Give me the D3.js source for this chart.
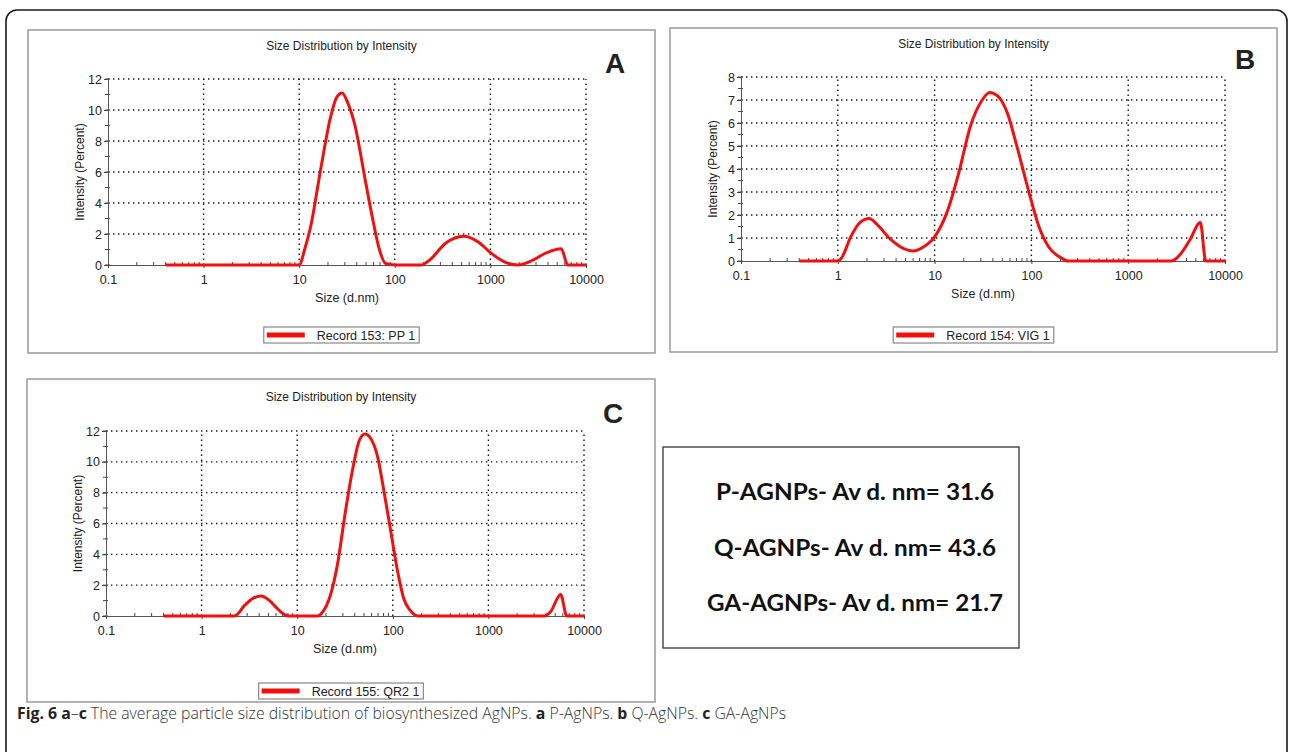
<!DOCTYPE html>
<html>
<head>
<meta charset="utf-8">
<script src="https://cdn.jsdelivr.net/npm/d3@7.9.0/dist/d3.min.js"></script>
<style>
  html, body { margin: 0; padding: 0; background: #fff; }
  svg { display: block; }
  .chart text { font-family: "Liberation Sans", Arial, sans-serif; fill: #222; }
</style>
</head>
<body>
<svg id="fig" width="1292" height="752"></svg>
<script>
// --- data ---
const xTickValues = [0.1, 1, 10, 100, 1000, 10000];
const xTickLabels = ['0.1', '1', '10', '100', '1000', '10000'];

// A: Record 153: PP 1
const sizesA = [0.4, 10, 11.4, 13.2, 16.8, 21.4, 24.6, 28.1, 32.5, 38.3, 49, 59, 69, 80, 100, 190, 234, 340, 526, 740, 1000, 1400, 1950, 2640, 3890, 5500, 6450, 10000];
const intensityA = [0, 0, 1.0, 2.5, 6.2, 9.6, 10.8, 11.1, 10.4, 9.0, 5.5, 2.9, 1.0, 0.1, 0, 0, 0.35, 1.4, 1.85, 1.5, 0.8, 0.2, 0, 0.25, 0.8, 1.05, 0, 0];

// B: Record 154: VIG 1
const sizesB = [0.4, 1.0, 1.1, 1.36, 1.72, 2.1, 2.6, 3.45, 4.8, 6.0, 7.6, 10, 13.3, 17.7, 23.4, 31, 37, 44.7, 56.5, 71, 95, 120, 151, 200, 240, 2800, 3250, 4320, 5560, 6330, 10000];
const intensityB = [0, 0, 0.15, 1.05, 1.7, 1.85, 1.55, 0.97, 0.54, 0.44, 0.6, 1.05, 2.07, 3.8, 5.85, 7.0, 7.33, 7.18, 6.43, 4.97, 2.94, 1.48, 0.61, 0.15, 0, 0, 0.17, 0.9, 1.67, 0, 0];

// C: Record 155: QR2 1
const sizesC = [0.4, 2.22, 2.83, 3.44, 4.17, 5.07, 6.16, 7.47, 8.2, 16.2, 18.6, 21.7, 26.3, 31.9, 38.7, 44.7, 51.1, 59, 69.5, 80, 95.5, 112.5, 130, 151, 182, 3870, 4470, 5700, 6600, 10000];
const intensityC = [0, 0, 0.7, 1.14, 1.3, 1.03, 0.5, 0.07, 0, 0, 0.28, 1.14, 3.3, 6.75, 9.76, 11.4, 11.8, 11.5, 10.3, 8.25, 5.45, 2.87, 1.14, 0.39, 0, 0, 0.28, 1.4, 0, 0];

const yMajorA = [0, 2, 4, 6, 8, 10, 12];
const yMajorB = [0, 1, 2, 3, 4, 5, 6, 7, 8];
const yMajorC = [0, 2, 4, 6, 8, 10, 12];

const panelTitle = 'Size Distribution by Intensity';
const xAxisTitle = 'Size (d.nm)';
const yAxisTitle = 'Intensity (Percent)';

const summaryLines = ['P-AGNPs- Av d. nm= 31.6', 'Q-AGNPs- Av d. nm= 43.6', 'GA-AGNPs- Av d. nm= 21.7'];

const svg = d3.select('#fig');

// outer rounded frame
svg.append('rect')
  .attr('x', 6).attr('y', 10)
  .attr('width', 1281).attr('height', 800)
  .attr('rx', 11)
  .attr('fill', 'none')
  .attr('stroke', '#1a1a1a')
  .attr('stroke-width', 1.6);

const panels = [
  { sizes: sizesA, values: intensityA, yMax: 12, yMajor: yMajorA, yMinorStep: 1,
    legend: 'Record 153: PP 1', letter: 'A', letterFont: '"Liberation Sans", Arial',
    box: [28, 30, 655, 353], plotX: [108, 586], plotY: [265, 79],
    titleY: 50, letterX: 615, letterY: 73, legendY: 327 },
  { sizes: sizesB, values: intensityB, yMax: 8, yMajor: yMajorB, yMinorStep: 0.5,
    legend: 'Record 154: VIG 1', letter: 'B', letterFont: '"Liberation Sans", Arial',
    box: [670, 28, 1277, 352], plotX: [741, 1225], plotY: [261, 77],
    titleY: 48, letterX: 1245, letterY: 69, legendY: 327 },
  { sizes: sizesC, values: intensityC, yMax: 12, yMajor: yMajorC, yMinorStep: 1,
    legend: 'Record 155: QR2 1', letter: 'C', letterFont: 'Lato, "Open Sans", sans-serif',
    box: [27, 379, 655, 702], plotX: [106, 584], plotY: [616, 431],
    titleY: 401, letterX: 613, letterY: 423, legendY: 683 }
];

panels.forEach(drawPanel);

function drawPanel(p) {
  const g = svg.append('g').attr('class', 'chart');
  const [bx0, by0, bx1, by1] = p.box;

  g.append('rect')
    .attr('x', bx0).attr('y', by0)
    .attr('width', bx1 - bx0).attr('height', by1 - by0)
    .attr('fill', '#fff')
    .attr('stroke', '#9a9a9a')
    .attr('stroke-width', 1.5);

  const x = d3.scaleLog().domain([0.1, 10000]).range(p.plotX);
  const y = d3.scaleLinear().domain([0, p.yMax]).range(p.plotY);

  // dotted grid
  g.append('g')
    .selectAll('line')
    .data(xTickValues.slice(1))
    .join('line')
    .attr('x1', d => x(d)).attr('x2', d => x(d))
    .attr('y1', y(0)).attr('y2', y(p.yMax))
    .attr('stroke', '#111').attr('stroke-width', 1.4)
    .attr('stroke-dasharray', '1.4,3.6');

  g.append('g')
    .selectAll('line')
    .data(p.yMajor.slice(1))
    .join('line')
    .attr('x1', x(0.1)).attr('x2', x(10000))
    .attr('y1', d => y(d)).attr('y2', d => y(d))
    .attr('stroke', '#111').attr('stroke-width', 1.4)
    .attr('stroke-dasharray', '1.4,3.6');

  // minor ticks
  const xMinor = [];
  for (let e = -1; e < 4; e++) for (let k = 2; k <= 9; k++) xMinor.push(k * Math.pow(10, e));
  g.append('g')
    .selectAll('line')
    .data(xMinor)
    .join('line')
    .attr('x1', d => x(d)).attr('x2', d => x(d))
    .attr('y1', y(0) - 3).attr('y2', y(0))
    .attr('stroke', '#444').attr('stroke-width', 1);

  const yMinor = d3.range(0, p.yMax + 0.001, p.yMinorStep);
  g.append('g')
    .selectAll('line')
    .data(yMinor)
    .join('line')
    .attr('x1', x(0.1) - 3).attr('x2', x(0.1) + 2)
    .attr('y1', d => y(d)).attr('y2', d => y(d))
    .attr('stroke', '#444').attr('stroke-width', 1);

  // axes
  const xAxis = d3.axisBottom(x)
    .tickValues(xTickValues)
    .tickFormat((d, i) => xTickLabels[i])
    .tickSize(3).tickPadding(7);
  const xg = g.append('g').attr('transform', `translate(0,${y(0)})`).call(xAxis);
  xg.select('.domain').attr('stroke', '#555');
  xg.selectAll('.tick line').attr('stroke', '#444');
  xg.selectAll('text').attr('font-size', 12.5).attr('fill', '#222')
    .attr('font-family', '"Liberation Sans", Arial, sans-serif');

  const yAxis = d3.axisLeft(y).tickValues(p.yMajor).tickSize(4).tickPadding(2);
  const yg = g.append('g').attr('transform', `translate(${x(0.1)},0)`).call(yAxis);
  yg.select('.domain').attr('stroke', '#555');
  yg.selectAll('.tick line').attr('stroke', '#444');
  yg.selectAll('text').attr('font-size', 12.5).attr('fill', '#222')
    .attr('font-family', '"Liberation Sans", Arial, sans-serif');

  // curve
  const pts = p.sizes.map((s, i) => [s, p.values[i]]);
  const line = d3.line()
    .x(d => x(d[0]))
    .y(d => y(d[1]))
    .curve(d3.curveMonotoneX);
  g.append('path')
    .datum(pts)
    .attr('d', line)
    .attr('fill', 'none')
    .attr('stroke', '#f01010')
    .attr('stroke-width', 3)
    .attr('stroke-linejoin', 'round');

  // labels
  const cx = (x(0.1) + x(10000)) / 2;
  g.append('text')
    .attr('x', (bx0 + bx1) / 2).attr('y', p.titleY)
    .attr('text-anchor', 'middle')
    .attr('font-size', 12)
    .text(panelTitle);

  g.append('text')
    .attr('x', cx).attr('y', y(0) + 37)
    .attr('text-anchor', 'middle')
    .attr('font-size', 12.5)
    .text(xAxisTitle);

  g.append('text')
    .attr('transform', `translate(${x(0.1) - 24},${(y(0) + y(p.yMax)) / 2}) rotate(-90)`)
    .attr('text-anchor', 'middle')
    .attr('font-size', 12)
    .text(yAxisTitle);

  g.append('text')
    .attr('x', p.letterX).attr('y', p.letterY)
    .attr('text-anchor', 'middle')
    .attr('font-family', p.letterFont)
    .attr('font-weight', 900)
    .attr('font-size', 28)
    .attr('fill', '#000')
    .text(p.letter);

  // legend
  const lg = g.append('g');
  const lt = lg.append('text')
    .attr('font-size', 12.5)
    .attr('y', p.legendY + 12.5)
    .text(p.legend);
  const tw = lt.node().getComputedTextLength();
  const lw = 3 + 38 + 12 + tw + 4;
  const lx = (bx0 + bx1) / 2 - lw / 2;
  lt.attr('x', lx + 53);
  lg.insert('rect', 'text')
    .attr('x', lx).attr('y', p.legendY)
    .attr('width', lw).attr('height', 16)
    .attr('fill', '#fff')
    .attr('stroke', '#888').attr('stroke-width', 1.2);
  lg.append('line')
    .attr('x1', lx + 3).attr('x2', lx + 41)
    .attr('y1', p.legendY + 8).attr('y2', p.legendY + 8)
    .attr('stroke', '#f01010').attr('stroke-width', 5);
}

// summary box
svg.append('rect')
  .attr('x', 663).attr('y', 447)
  .attr('width', 356).attr('height', 201)
  .attr('fill', '#fff')
  .attr('stroke', '#333').attr('stroke-width', 1.3);

const summaryLengths = [278, 282, 296];
svg.append('g')
  .selectAll('text')
  .data(summaryLines)
  .join('text')
  .attr('x', 855)
  .attr('y', (d, i) => 492 + i * 55.5)
  .attr('dy', '0.35em')
  .attr('text-anchor', 'middle')
  .attr('font-family', 'Lato, "Open Sans", sans-serif')
  .attr('font-weight', 700)
  .attr('font-size', 23)
  .attr('textLength', (d, i) => summaryLengths[i])
  .attr('lengthAdjust', 'spacingAndGlyphs')
  .attr('fill', '#111')
  .text(d => d);

// caption
const captionParts = [
  ['Fig. 6', true], [' ', false], ['a', true], ['–', false], ['c', true],
  [' The average particle size distribution of biosynthesized AgNPs. ', false],
  ['a', true], [' P-AgNPs. ', false], ['b', true], [' Q-AgNPs. ', false],
  ['c', true], [' GA-AgNPs', false]
];
const cap = svg.append('text')
  .attr('x', 17).attr('y', 719)
  .attr('font-family', '"Liberation Sans Narrow", "Open Sans", Lato, sans-serif')
  .attr('font-size', 15.8)
  .attr('fill', '#333');
cap.selectAll('tspan')
  .data(captionParts)
  .join('tspan')
  .attr('font-weight', d => d[1] ? 700 : 300)
  .attr('fill', d => d[1] ? '#222' : '#333')
  .text(d => d[0]);
</script>
</body>
</html>
